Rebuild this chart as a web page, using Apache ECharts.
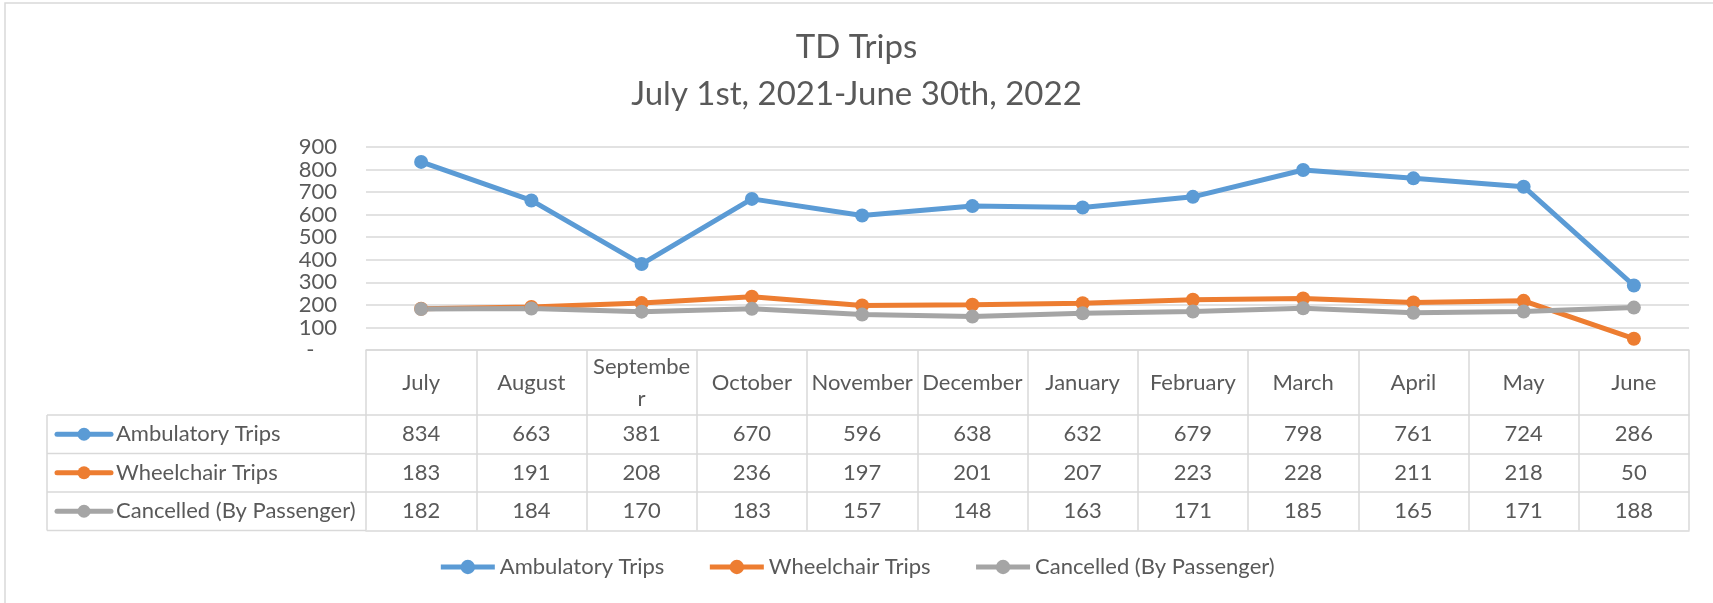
<!DOCTYPE html>
<html>
<head>
<meta charset="utf-8">
<script src="https://cdn.jsdelivr.net/npm/echarts@6/dist/echarts.min.js"></script>
<style>html,body{margin:0;padding:0;background:#fff;}#chart{width:1713px;height:603px;}</style>
</head>
<body>
<div id="chart"></div>
<script>
const titleLines = ['TD Trips', 'July 1st, 2021-June 30th, 2022'];
const categories = ['July','August','September','October','November','December','January','February','March','April','May','June'];
const seriesNames = ['Ambulatory Trips','Wheelchair Trips','Cancelled (By Passenger)'];
const ambulatory = [834,663,381,670,596,638,632,679,798,761,724,286];
const wheelchair = [183,191,208,236,197,201,207,223,228,211,218,50];
const cancelled = [182,184,170,183,157,148,163,171,185,165,171,188];
const seriesColors = ['#5B9BD5','#ED7D31','#A5A5A5'];
const yMin = 0, yMax = 900, yInterval = 100;

const seriesData = [ambulatory, wheelchair, cancelled];
const FONT = 'Lato';
const TXT = '#595959';
const BORDER = '#D9D9D9';
const FS = 22;

// table geometry (layout)
const gridLeft = 366, gridRight = 24, gridTop = 147, gridBottom = 253;
const axisY = 603 - gridBottom;
const headerH = 65, rowH = 38.5;
const tableLeft = 47;

const xAxes = [];
xAxes.push({
  type: 'category', data: categories, gridIndex: 0, position: 'bottom', boundaryGap: true,
  axisLine: {show: true, lineStyle: {color: BORDER, width: 1.5}},
  axisTick: {show: true, interval: 0, length: headerH, lineStyle: {color: BORDER, width: 1.5}},
  axisLabel: {interval: 0, margin: headerH/2, verticalAlign: 'middle', color: TXT, fontFamily: FONT, fontSize: FS,
    width: 105, overflow: 'breakAll', lineHeight: 32, align: 'center'}
});
seriesData.forEach((arr, k) => {
  xAxes.push({
    type: 'category', data: categories, gridIndex: 0, position: 'bottom', boundaryGap: true,
    offset: headerH + rowH * k,
    axisLine: {show: true, lineStyle: {color: BORDER, width: 1.5}},
    axisTick: {show: true, interval: 0, length: rowH, lineStyle: {color: BORDER, width: 1.5}},
    axisLabel: {interval: 0, margin: rowH/2, verticalAlign: 'middle', color: TXT, fontFamily: FONT, fontSize: FS,
      formatter: (v, i) => String(arr[i])}
  });
});
xAxes.push({
  type: 'category', data: categories, gridIndex: 0, position: 'bottom', boundaryGap: true,
  offset: headerH + rowH * 3,
  axisLine: {show: true, lineStyle: {color: BORDER, width: 1.5}},
  axisTick: {show: false}, axisLabel: {show: false}
});

const graphics = [
  {type: 'rect', shape: {x: 5, y: 3, width: 1800, height: 800}, style: {fill: 'none', stroke: BORDER, lineWidth: 1.5}, silent: true}
];
// left label column of the data table
const tTop = axisY + headerH;
graphics.push({type: 'line', shape: {x1: tableLeft, y1: tTop, x2: tableLeft, y2: tTop + rowH * 3}, style: {stroke: BORDER, lineWidth: 1.5}});
for (let k = 0; k <= 3; k++) {
  graphics.push({type: 'line', shape: {x1: tableLeft, y1: tTop + rowH * k, x2: gridLeft, y2: tTop + rowH * k}, style: {stroke: BORDER, lineWidth: 1.5}});
}
seriesNames.forEach((name, k) => {
  const cy = tTop + rowH * k + rowH / 2;
  graphics.push({type: 'line', shape: {x1: 57, y1: cy, x2: 111, y2: cy}, style: {stroke: seriesColors[k], lineWidth: 5, lineCap: 'round'}});
  graphics.push({type: 'circle', shape: {cx: 84, cy: cy, r: 6.5}, style: {fill: seriesColors[k]}});
  graphics.push({type: 'text', x: 116, y: cy, style: {text: name, fill: TXT, font: FS + 'px ' + FONT, verticalAlign: 'middle', align: 'left'}});
});

const option = {
  backgroundColor: '#ffffff',
  animation: false,
  title: {
    text: titleLines.join('\n'), left: 'center', top: 24, padding: [0, 0, 0, 12],
    textStyle: {color: TXT, fontFamily: FONT, fontSize: 33, fontWeight: 'normal', lineHeight: 47}
  },
  legend: {
    data: seriesNames, bottom: 20, left: 'center', itemWidth: 54, itemHeight: 18, itemGap: 43,
    lineStyle: {width: 5},
    textStyle: {color: TXT, fontFamily: FONT, fontSize: FS}
  },
  grid: {left: gridLeft, right: gridRight, top: gridTop, bottom: gridBottom, containLabel: false},
  xAxis: xAxes,
  yAxis: {
    type: 'value', min: yMin, max: yMax, interval: yInterval,
    axisLine: {show: false}, axisTick: {show: false},
    splitLine: {lineStyle: {color: BORDER, width: 1.5}},
    axisLabel: {color: TXT, fontFamily: FONT, fontSize: FS, margin: 29,
      formatter: v => v === 0 ? '-    ' : String(v)}
  },
  series: seriesNames.map((name, k) => ({
    name: name, type: 'line', data: seriesData[k], xAxisIndex: 0,
    symbol: 'circle', symbolSize: 14,
    lineStyle: {color: seriesColors[k], width: 5},
    itemStyle: {color: seriesColors[k]}
  })),
  graphic: graphics
};
const chart = echarts.init(document.getElementById('chart'), null, {renderer: 'canvas'});
chart.setOption(option);
</script>
</body>
</html>
